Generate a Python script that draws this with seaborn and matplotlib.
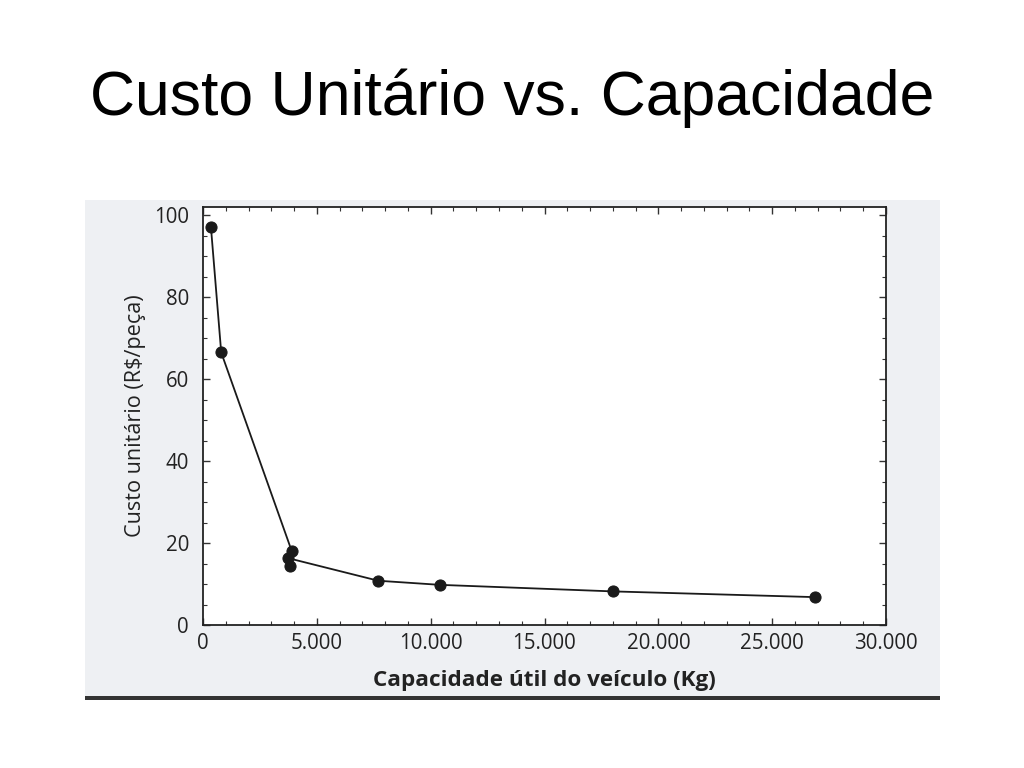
import numpy as np
import pandas as pd
import matplotlib
matplotlib.use("Agg")
import matplotlib.pyplot as plt
from matplotlib.ticker import FuncFormatter, MultipleLocator
from matplotlib.patches import Rectangle
import seaborn as sns

# Data
capacidade = [350, 800, 3900, 3800, 3750, 7700, 10400, 18000, 26900]
custo = [97.0, 66.5, 18.0, 14.5, 16.3, 10.8, 9.8, 8.2, 6.8]

df = pd.DataFrame({"capacidade": capacidade, "custo": custo})

sns.set_theme(style="white")
plt.rcParams["font.family"] = ["Open Sans", "DejaVu Sans"]

fig = plt.figure(figsize=(10.24, 7.68), dpi=100)

# scanned page background
fig.patches.append(Rectangle((85 / 1024, 1 - 700 / 768), 855 / 1024, 500 / 768,
                             transform=fig.transFigure, facecolor="#eef0f3",
                             edgecolor="none", zorder=-2))
fig.patches.append(Rectangle((85 / 1024, 1 - 700 / 768), 855 / 1024, 4 / 768,
                             transform=fig.transFigure, facecolor="#333333",
                             edgecolor="none", zorder=-1))

ax = fig.add_axes([203 / 1024, 1 - 625 / 768, 683 / 1024, 418 / 768])
ax.set_zorder(1)
ax.set_facecolor("white")

sns.lineplot(data=df, x="capacidade", y="custo", sort=False, ax=ax,
             color="#1a1a1a", linewidth=1.3, marker="o", markersize=8,
             markeredgecolor="#1a1a1a", markerfacecolor="#1a1a1a")

ax.set_xlim(0, 30000)
ax.set_ylim(0, 102)
ax.xaxis.set_major_locator(MultipleLocator(5000))
ax.xaxis.set_minor_locator(MultipleLocator(1000))
ax.yaxis.set_major_locator(MultipleLocator(20))
ax.yaxis.set_minor_locator(MultipleLocator(5))
ax.xaxis.set_major_formatter(FuncFormatter(lambda v, p: f"{int(v):,}".replace(",", ".")))

ax.tick_params(which="both", direction="in", top=True, right=True,
               bottom=True, left=True, color="#333333")
ax.tick_params(which="major", length=5, width=1, labelsize=14.8,
               labelcolor="#222222", pad=6)
ax.tick_params(axis="y", which="major", pad=10)
ax.tick_params(which="minor", length=3, width=0.8)
for s in ax.spines.values():
    s.set_color("#222222")
    s.set_linewidth(1.3)

ax.set_xlabel("Capacidade útil do veículo (Kg)", fontsize=16.2,
              fontweight="bold", color="#222222", labelpad=11)
ax.set_ylabel("Custo unitário (R$/peça)", fontsize=15.6, color="#222222",
              fontweight="medium", labelpad=6)

fig.text(0.5, 1 - 98 / 768, "Custo Unitário vs. Capacidade", ha="center",
         va="center", fontsize=45, family=["Liberation Sans", "DejaVu Sans"],
         color="black")

fig.savefig("out.png", dpi=100)
